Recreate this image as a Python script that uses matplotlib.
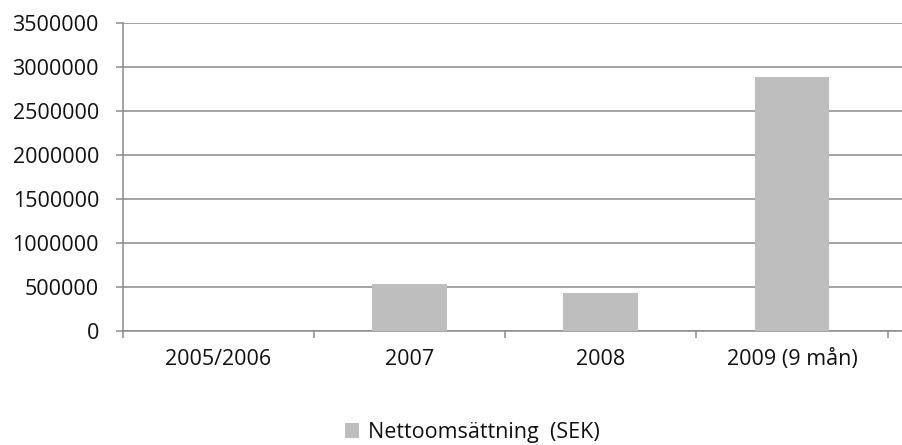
import matplotlib.pyplot as plt
from matplotlib.patches import Patch

# Chart data
categories = ["2005/2006", "2007", "2008", "2009 (9 mån)"]
values = [0, 540000, 435000, 2885000]
series_name = "Nettoomsättning  (SEK)"
y_ticks = [0, 500000, 1000000, 1500000, 2000000, 2500000, 3000000, 3500000]

BAR_COLOR = "#bebebe"
LINE_COLOR = "#8a8a8a"
FS = 15.5

plt.rcParams["font.family"] = ["Open Sans", "DejaVu Sans"]

fig = plt.figure(figsize=(9.03, 4.45), dpi=100)
ax = fig.add_axes([0.1357, 0.2555, 0.8643, 0.6921])

x = list(range(len(categories)))
ax.bar(x, values, width=0.39, color=BAR_COLOR, zorder=3)

ax.set_ylim(0, 3500000)
ax.set_xlim(-0.5, 3.58)
ax.set_yticks(y_ticks)
ax.set_yticklabels([str(v) for v in y_ticks], fontsize=FS, color="#111111")
ax.yaxis.grid(True, color=LINE_COLOR, linewidth=1.1, zorder=0)
ax.set_axisbelow(True)

ax.set_xticks(x)
ax.set_xticklabels(categories, fontsize=FS, color="#111111")
ax.set_xticks([-0.5, 0.5, 1.5, 2.5, 3.5], minor=True)
ax.tick_params(axis="x", which="major", length=0, pad=13)
ax.tick_params(axis="x", which="minor", length=5, color=LINE_COLOR, width=1.1)
ax.tick_params(axis="y", length=5, color=LINE_COLOR, width=1.1, pad=12)

for side in ["top", "right"]:
    ax.spines[side].set_visible(False)
for side in ["left", "bottom"]:
    ax.spines[side].set_color(LINE_COLOR)
    ax.spines[side].set_linewidth(1.1)

handle = Patch(facecolor=BAR_COLOR, edgecolor="none")
fig.legend([handle], [series_name], loc="center", bbox_to_anchor=(0.523, 0.028),
           frameon=False, fontsize=FS, handlelength=0.65, handleheight=0.65,
           handletextpad=0.4, labelcolor="#111111")

plt.savefig("out.png", dpi=100)
plt.close()
